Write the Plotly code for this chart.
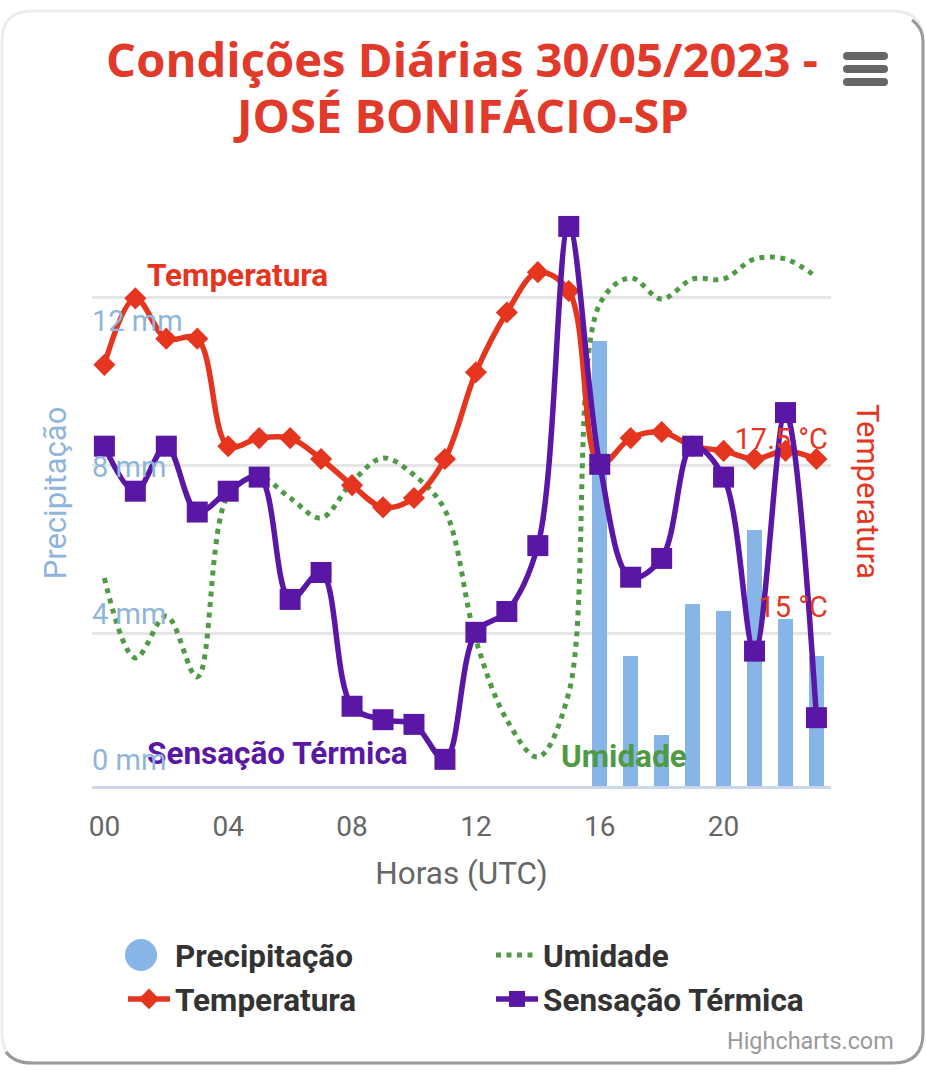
import plotly.graph_objects as go

W, H = 926, 1070
L, R, T, B = 92, 831, 200, 786

hours = list(range(24))
tick_hours = [0, 4, 8, 12, 16, 20]
tick_labels = ["00", "04", "08", "12", "16", "20"]

precip_hours = [16, 17, 18, 19, 20, 21, 22, 23]
precip_mm = [12.15, 3.55, 1.4, 4.97, 4.78, 7.0, 4.56, 3.55]

temperatura = [18.99, 19.98, 19.38, 19.38, 17.78, 17.90, 17.90, 17.59, 17.20, 16.87, 17.01, 17.59,
               18.88, 19.77, 20.37, 20.09, 17.51, 17.90, 17.99, 17.78, 17.71, 17.59, 17.71, 17.59]
sensacao = [17.78, 17.11, 17.78, 16.80, 17.11, 17.32, 15.50, 15.90, 13.91, 13.71, 13.64, 13.12,
            15.01, 15.32, 16.30, 21.05, 17.51, 15.83, 16.11, 17.78, 17.32, 14.73, 18.28, 13.74]
umidade = [60.8, 52.8, 57.0, 50.9, 69.1, 70.9, 68.8, 66.8, 70.4, 72.8, 71.1, 67.6,
           54.6, 46.6, 42.9, 49.3, 88.2, 90.8, 88.7, 90.7, 90.7, 92.7, 92.7, 90.9]

mm_ticks = [0, 4, 8, 12]
mm_labels = ["0 mm", "4 mm", "8 mm", "12 mm"]
temp_ticks = [15, 17.5, 20]
temp_labels = ["15 °C", "17.5 °C", ""]

RED, PURPLE, GREEN, BLUE = "#e5351f", "#5a17a5", "#4f9a45", "#88b5e8"
BLUE_TXT = "#8fb5dc"


def px(x):
    return (x - L) / (R - L)


def py(y):
    return (B - y) / (B - T)


def rrect(x0, y0, x1, y1, r):
    a, b, c, d = px(x0), py(y0), px(x1), py(y1)
    rx, ry = r / (R - L), r / (B - T)
    return (f"M{a+rx},{b} L{c-rx},{b} Q{c},{b} {c},{b-ry} L{c},{d+ry} Q{c},{d} {c-rx},{d} "
            f"L{a+rx},{d} Q{a},{d} {a},{d+ry} L{a},{b-ry} Q{a},{b} {a+rx},{b} Z")


fig = go.Figure()
fig.add_trace(go.Bar(x=precip_hours, y=precip_mm, width=0.48, marker=dict(color=BLUE, line_width=0),
                     name="Precipitação", yaxis="y", showlegend=False))
fig.add_trace(go.Scatter(x=[None], y=[None], mode="markers", name="Precipitação", legendrank=1,
                         marker=dict(color=BLUE, symbol="circle", size=16)))
fig.add_trace(go.Scatter(x=hours, y=umidade, mode="lines", name="Umidade", yaxis="y2", legendrank=2,
                         line=dict(color=GREEN, width=5, dash="5px,5.5px", shape="spline", smoothing=1)))
fig.add_trace(go.Scatter(x=hours, y=temperatura, mode="lines+markers", name="Temperatura", yaxis="y3", legendrank=3,
                         line=dict(color=RED, width=5.5, shape="spline", smoothing=1),
                         marker=dict(symbol="diamond", size=17, color=RED)))
fig.add_trace(go.Scatter(x=hours, y=sensacao, mode="lines+markers", name="Sensação Térmica", yaxis="y3", legendrank=4,
                         line=dict(color=PURPLE, width=5.5, shape="spline", smoothing=1),
                         marker=dict(symbol="square", size=21, color=PURPLE)))

shapes = [
    dict(type="path", xref="paper", yref="paper", layer="below", line=dict(color="#ececec", width=3),
         path=rrect(2, 11, 923, 1063, 30)),
    dict(type="path", xref="paper", yref="paper", layer="below", line=dict(color="#9a9a9a", width=3),
         path=(f"M{px(912)},{py(20)} Q{px(923)},{py(28)} {px(923)},{py(41)} L{px(923)},{py(1033)} "
               f"Q{px(923)},{py(1063)} {px(893)},{py(1063)} L{px(32)},{py(1063)} Q{px(14)},{py(1063)} {px(6)},{py(1052)}")),
    dict(type="circle", xref="paper", yref="paper", fillcolor=BLUE, line_width=0,
         x0=px(125), x1=px(157), y0=py(939), y1=py(971)),
]
for yc in (56, 69, 82):
    shapes.append(dict(type="path", xref="paper", yref="paper", fillcolor="#666666", line_width=0,
                       path=rrect(843, yc - 4, 888, yc + 4, 4)))


def note(text, x, y, color, size, bold=True, anchor="left", family="Roboto", angle=0):
    t = f"<b>{text}</b>" if bold else text
    return dict(text=t, x=px(x), y=py(y), xref="paper", yref="paper", showarrow=False, xanchor=anchor,
                yanchor="middle", textangle=angle, font=dict(family=family, size=size, color=color))


annotations = [
    note("JOSÉ BONIFÁCIO-SP", 461, 115, "#e1392a", 47, anchor="center", family="Open Sans"),
    note("Temperatura", 145, 275, RED, 31.5),
    note("Sensação Térmica", 145, 753, PURPLE, 31.5),
    note("Umidade", 559, 756, GREEN, 31.5),
    note("Highcharts.com", 896, 1041, "#999999", 23.4, bold=False, anchor="right"),
    note("Temperatura", 867, 491, RED, 31, bold=False, anchor="center", angle=90),
]
for v, lab in zip(mm_ticks, mm_labels):
    annotations.append(dict(text=lab, x=0, xref="paper", y=v, yref="y", yshift=26, showarrow=False, xanchor="left",
                            yanchor="middle", xshift=-2, font=dict(family="Roboto", size=29, color=BLUE_TXT)))

fig.update_layout(
    width=W, height=H, margin=dict(l=L, r=W - R, t=T, b=H - B),
    paper_bgcolor="white", plot_bgcolor="rgba(0,0,0,0)",
    font=dict(family="Roboto"),
    title=dict(text="<b>Condições Diárias 30/05/2023 -</b>", x=462 / W, xanchor="center",
               y=1 - 44 / H, yanchor="top", font=dict(family="Open Sans", size=47.2, color="#e1392a")),
    xaxis=dict(range=[-0.40, 23.47], tickmode="array", tickvals=tick_hours, ticktext=tick_labels, showgrid=False,
               zeroline=False, showline=True, linecolor="#ccd6eb", linewidth=3, ticks="", ticklabelstandoff=13,
               tickfont=dict(size=28, color="#666666"),
               title=dict(text="Horas (UTC)", font=dict(size=31.5, color="#666666"), standoff=21)),
    yaxis=dict(range=[0, (B - T) / 36.6], tickmode="array", tickvals=mm_ticks, showticklabels=False, showgrid=False,
               zeroline=False, showline=False, ticks="",
               title=dict(text="Precipitação", font=dict(size=31, color=BLUE_TXT), standoff=15)),
    yaxis2=dict(range=[40, 40 + (B - T) / 10], overlaying="y", visible=False),
    yaxis3=dict(range=[17.5 + (465 - B) / 67.2, 17.5 + (465 - T) / 67.2], overlaying="y", side="right", tickmode="array",
                tickvals=temp_ticks, ticktext=temp_labels, showgrid=True, gridcolor="#e6e6e6", gridwidth=3,
                zeroline=False, showline=False, ticks="", ticklabelposition="inside", ticklabelshift=-26,
                tickfont=dict(size=29, color=RED)),
    bargap=0,
    legend=dict(orientation="h", xref="container", yref="container", x=123 / W, y=1 - 928 / H, xanchor="left", yanchor="top",
                entrywidth=311, entrywidthmode="pixels", itemwidth=42, traceorder="normal",
                font=dict(family="Roboto", size=31.5, color="#333333", weight="bold"), bgcolor="rgba(0,0,0,0)"),
    shapes=shapes, annotations=annotations,
)

fig.write_html("out.html", post_script="document.body.style.margin='0';", config=dict(displayModeBar=False))
